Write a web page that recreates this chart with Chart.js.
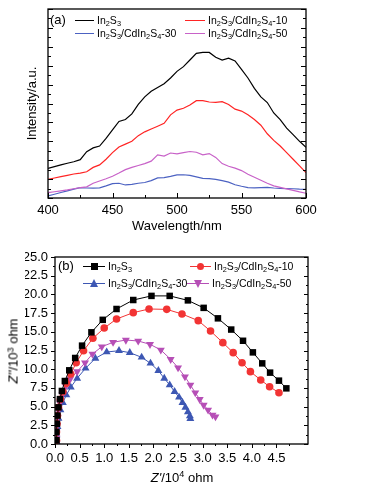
<!DOCTYPE html>
<html>
<head>
<meta charset="utf-8">
<script src="https://cdn.jsdelivr.net/npm/chart.js@4"></script>
<style>
  body { margin: 0; background: #fff; }
  #wrap { position: relative; width: 376px; height: 497px; background: #fff; overflow: hidden;
          font-family: "Liberation Sans", Arial, sans-serif; color: #000; }
  canvas { position: absolute; left: 0; }
  .lg { position: absolute; height: 14px; line-height: 14px; white-space: nowrap; font-size: 10.5px; }
  .sw { position: relative; display: inline-block; width: 20px; height: 14px; vertical-align: top; margin-right: 3px; }
  .sw .ln { position: absolute; left: 0; right: 0; top: 7px; height: 1px; }
  .sw .mk { position: absolute; left: 50%; top: 7px; }
  sub { font-size: 70%; vertical-align: -0.3em; line-height: 0; }
  sup { font-size: 70%; vertical-align: 0.45em; line-height: 0; }
  .tag { position: absolute; font-size: 13px; line-height: 14px; }
  .ttl { position: absolute; font-size: 13px; white-space: nowrap; transform: translate(-50%, -50%); }
</style>
</head>
<body>
<div id="wrap">
  <canvas id="plChart" width="376" height="234" style="top:0"></canvas>
  <canvas id="eisChart" width="376" height="257" style="top:240px"></canvas>
  <div class="tag" style="left:50px;top:13px">(a)</div>
  <div class="tag" style="left:58px;top:259px">(b)</div>
  <div class="ttl" style="left:13px;top:351px;transform:translate(-50%,-50%) rotate(-90deg)"><i>Z''</i>/10<sup>3</sup> ohm</div>
  <div class="ttl" style="left:182px;top:477px"><i>Z'</i>/10<sup>4</sup> ohm</div>
</div>
<script>
// ── DATA ─────────────────────────────────────────────────────────────
const seriesNames = [
  'In<sub>2</sub>S<sub>3</sub>',
  'In<sub>2</sub>S<sub>3</sub>/CdIn<sub>2</sub>S<sub>4</sub>-10',
  'In<sub>2</sub>S<sub>3</sub>/CdIn<sub>2</sub>S<sub>4</sub>-30',
  'In<sub>2</sub>S<sub>3</sub>/CdIn<sub>2</sub>S<sub>4</sub>-50'
];
const plainNames = ['In2S3', 'In2S3/CdIn2S4-10', 'In2S3/CdIn2S4-30', 'In2S3/CdIn2S4-50'];

// (a) PL spectra, wavelength in nm, intensity in a.u.
const wavelengths = [400,405,410,415,420,425,430,435,440,445,450,455,460,465,470,475,480,485,490,495,
  500,505,510,515,520,525,530,535,540,545,550,555,560,565,570,575,580,585,590,595,600];
const plIn2S3 = [15.7,16.6,17.5,18.4,19.2,20.3,24.5,26.5,27.5,31.5,36.0,40.5,41.5,44.5,49.5,53.5,56.5,58.5,60.5,63.5,
  67.0,69.5,73.0,76.5,77.0,77.0,74.5,73.0,74.0,72.5,68.0,63.5,58.0,53.5,50.5,45.0,41.5,37.0,33.5,30.0,26.8];
const pl10 = [9.9,10.6,11.3,12.0,12.7,13.2,13.9,16.2,17.5,20.5,24.0,27.0,28.5,30.0,33.0,35.0,36.5,38.0,39.5,44.0,
  46.5,47.5,49.2,51.5,51.5,50.8,50.6,51.0,49.5,47.0,46.0,44.0,41.5,38.5,34.0,30.5,27.5,24.0,20.5,17.0,13.4];
const pl30 = [1.1,2.0,2.9,3.8,4.7,5.5,5.3,5.2,5.4,6.4,7.6,7.8,6.9,7.2,7.8,8.2,9.2,10.6,10.8,11.4,
  12.2,12.3,12.0,11.2,10.4,10.3,9.9,9.2,8.4,7.0,6.2,5.5,5.4,5.5,5.6,5.3,5.1,5.0,4.9,4.7,4.6];
const pl50 = [2.8,3.3,3.8,4.3,4.9,5.5,5.9,7.8,9.0,10.2,11.5,13.2,15.0,16.2,17.2,18.2,19.5,22.8,22.2,23.8,
  23.4,24.0,24.6,24.2,22.8,23.5,21.5,18.2,16.8,15.8,14.5,12.6,11.0,9.4,7.8,6.4,5.6,4.8,4.0,3.2,2.5];

// (b) Nyquist plots, Z' in 10^4 ohm, Z'' in 10^3 ohm
const zReIn2S3 = [0.03,0.03,0.04,0.05,0.07,0.10,0.14,0.20,0.29,0.41,0.55,0.74,0.97,1.25,1.59,1.96,2.33,2.70,3.02,3.31,3.58,3.82,4.02,4.21,4.37,4.55,4.70];
const zImIn2S3 = [0.5,1.6,2.7,3.8,4.9,6.0,7.09,8.42,9.85,11.5,13.15,14.93,16.6,18.05,19.25,19.8,19.8,19.2,18.2,16.8,15.3,13.8,12.25,10.78,9.54,8.47,7.44];
const zRe10 = [0.03,0.03,0.04,0.05,0.07,0.11,0.16,0.23,0.32,0.43,0.58,0.77,1.00,1.25,1.59,1.91,2.27,2.58,2.91,3.16,3.41,3.62,3.80,3.97,4.18,4.36,4.55];
const zIm10 = [0.5,1.6,2.7,3.8,4.9,5.97,6.99,8.11,9.36,10.87,12.47,14.13,15.5,16.71,17.56,18.05,18.0,17.38,16.49,15.1,13.55,12.21,10.87,9.67,8.56,7.66,6.86];
const zRe30 = [0.03,0.03,0.05,0.07,0.11,0.16,0.23,0.32,0.45,0.62,0.82,1.05,1.30,1.52,1.76,1.94,2.10,2.22,2.33,2.43,2.52,2.59,2.65,2.70,2.74,2.75];
const zIm30 = [0.3,1.2,2.32,3.43,4.55,5.53,6.55,7.58,8.78,10.12,11.45,12.3,12.47,12.21,11.59,10.79,9.80,8.78,7.89,6.99,6.24,5.53,4.90,4.28,3.74,3.39];
const zRe50 = [0.03,0.03,0.03,0.04,0.05,0.07,0.10,0.15,0.22,0.31,0.45,0.61,0.76,0.95,1.18,1.44,1.69,1.93,2.15,2.35,2.50,2.64,2.75,2.85,2.94,3.02,3.11,3.20,3.26];
const zIm50 = [0.1,0.8,1.6,2.5,3.5,4.5,5.5,6.6,7.7,8.7,9.67,10.87,12.03,13.0,13.6,13.9,13.77,13.33,12.57,11.32,10.2,9.0,7.89,6.86,5.97,5.21,4.55,3.88,3.65];

const plColors = ['#000000', '#ff2424', '#4c62c2', '#c862c8'];
const eisColors = ['#000000', '#f23434', '#3d57b3', '#b64fb6'];

// ── HELPERS ──────────────────────────────────────────────────────────
Chart.defaults.font.family = '"Liberation Sans", Arial, sans-serif';
Chart.defaults.font.size = 13;
Chart.defaults.color = '#000';

const pairs = (xs, ys) => xs.map((x, i) => ({ x: x, y: ys[i] }));
const isMultiple = (v, step) => Math.abs(v / step - Math.round(v / step)) < 1e-6;

// frame box + tick marks (major/minor) drawn from the scales
const frameTicks = {
  id: 'frameTicks',
  afterDraw(chart, args, opts) {
    const { ctx, chartArea: a, scales } = chart;
    const xs = scales.x, ys = scales.y;
    const dirX = opts.xOut ? 1 : -1;
    const dirY = opts.yOut ? -1 : 1;
    ctx.save();
    ctx.strokeStyle = '#000';
    ctx.lineWidth = 1.3;
    ctx.strokeRect(a.left, a.top, a.right - a.left, a.bottom - a.top);
    ctx.lineWidth = 1;
    ctx.beginPath();
    xs.ticks.forEach((t, i) => {
      const px = Math.round(xs.getPixelForTick(i)) + 0.5;
      const len = isMultiple(t.value, opts.xMajor) ? opts.major : opts.minor;
      ctx.moveTo(px, a.bottom);
      ctx.lineTo(px, a.bottom + dirX * len);
    });
    ys.ticks.forEach((t, i) => {
      const py = Math.round(ys.getPixelForTick(i)) + 0.5;
      const len = isMultiple(t.value, opts.yMajor) ? opts.major : opts.minor;
      ctx.moveTo(a.left, py);
      ctx.lineTo(a.left + dirY * len, py);
      ctx.moveTo(a.right, py);
      ctx.lineTo(a.right - len, py);
    });
    ctx.stroke();
    ctx.restore();
  }
};

// ── (a) PL CHART ─────────────────────────────────────────────────────
const plSeries = [plIn2S3, pl10, pl30, pl50];
new Chart(document.getElementById('plChart'), {
  type: 'scatter',
  data: {
    datasets: plSeries.map((s, i) => ({
      label: plainNames[i],
      data: pairs(wavelengths, s),
      showLine: true,
      borderColor: plColors[i],
      borderWidth: 1.2,
      pointRadius: 0,
      order: [0, 1, 3, 2][i]
    }))
  },
  options: {
    responsive: false,
    animation: false,
    devicePixelRatio: 1,
    layout: { padding: { left: 25, top: 9, right: 70, bottom: 0 } },
    plugins: {
      legend: { display: false },
      tooltip: { enabled: false },
      frameTicks: { xMajor: 50, yMajor: 10, major: 5, minor: 3, xOut: false, yOut: false }
    },
    scales: {
      x: {
        type: 'linear', min: 400, max: 600,
        grid: { display: false, drawTicks: false },
        border: { display: false },
        ticks: { stepSize: 25, padding: 5, maxRotation: 0, autoSkip: false,
                  callback: (v) => isMultiple(v, 50) ? String(v) : '' },
        title: { display: true, text: 'Wavelength/nm', padding: 0, font: { size: 13 } },
        afterFit: (s) => { s.height = 36; }
      },
      y: {
        min: 0, max: 100,
        grid: { display: false, drawTicks: false },
        border: { display: false },
        ticks: { display: false, stepSize: 5 },
        title: { display: true, text: 'Intensity/a.u.', padding: 0, font: { size: 13 } },
        afterFit: (s) => { s.width = 23; }
      }
    }
  },
  plugins: [frameTicks]
});

// ── (b) EIS CHART ────────────────────────────────────────────────────
const eisRe = [zReIn2S3, zRe10, zRe30, zRe50];
const eisIm = [zImIn2S3, zIm10, zIm30, zIm50];
const eisShapes = ['rect', 'circle', 'triangle', 'triangle'];
const eisRotation = [0, 0, 0, 180];
const eisRadius = [4.6, 3.8, 4.6, 4.6];

new Chart(document.getElementById('eisChart'), {
  type: 'scatter',
  data: {
    datasets: eisRe.map((xs, i) => ({
      label: plainNames[i],
      data: pairs(xs, eisIm[i]),
      showLine: true,
      borderColor: eisColors[i],
      backgroundColor: eisColors[i],
      borderWidth: 1,
      pointStyle: eisShapes[i],
      rotation: eisRotation[i],
      pointRadius: eisRadius[i],
      pointBorderWidth: 0,
      order: [0, 1, 3, 2][i]
    }))
  },
  options: {
    responsive: false,
    animation: false,
    devicePixelRatio: 1,
    layout: { padding: { left: 25, top: 17, right: 68, bottom: 0 } },
    plugins: {
      legend: { display: false },
      tooltip: { enabled: false },
      frameTicks: { xMajor: 0.5, yMajor: 2.5, major: 4, minor: 2, xOut: true, yOut: true }
    },
    scales: {
      x: {
        type: 'linear', min: 0, max: 5.14,
        grid: { display: false, drawTicks: true, tickLength: 4 },
        border: { display: false },
        ticks: { stepSize: 0.25, padding: 3, maxRotation: 0, autoSkip: false,
                  callback: (v) => isMultiple(v, 0.5) ? v.toFixed(1) : '' },
        afterBuildTicks: (s) => { s.ticks = s.ticks.filter(t => isMultiple(t.value, 0.25)); },
        afterFit: (s) => { s.height = 53; }
      },
      y: {
        min: 0, max: 25,
        grid: { display: false, drawTicks: true, tickLength: 4 },
        border: { display: false },
        ticks: { stepSize: 1.25, padding: 3, autoSkip: false,
                  callback: (v) => isMultiple(v, 2.5) ? v.toFixed(1) : '' },
        afterFit: (s) => { s.width = 30; }
      }
    }
  },
  plugins: [frameTicks]
});

// ── LEGENDS (html, so sub-scripts stay real text) ────────────────────
function markerHtml(shape, color) {
  if (shape === 'rect') return `<span class="mk" style="width:7px;height:7px;margin:-3.5px 0 0 -3.5px;background:${color}"></span>`;
  if (shape === 'circle') return `<span class="mk" style="width:7px;height:7px;margin:-3.5px 0 0 -3.5px;border-radius:50%;background:${color}"></span>`;
  if (shape === 'up') return `<span class="mk" style="width:0;height:0;margin:-4.5px 0 0 -4.5px;border-left:4.5px solid transparent;border-right:4.5px solid transparent;border-bottom:8px solid ${color}"></span>`;
  if (shape === 'down') return `<span class="mk" style="width:0;height:0;margin:-3.5px 0 0 -4.5px;border-left:4.5px solid transparent;border-right:4.5px solid transparent;border-top:8px solid ${color}"></span>`;
  return '';
}

function addLegend(items) {
  const wrap = document.getElementById('wrap');
  items.forEach(it => {
    const d = document.createElement('div');
    d.className = 'lg';
    d.style.left = it.x + 'px';
    d.style.top = (it.y - 7) + 'px';
    d.innerHTML = `<span class="sw" style="width:${it.w}px"><span class="ln" style="background:${it.color}"></span>${markerHtml(it.shape, it.color)}</span>${it.label}`;
    wrap.appendChild(d);
  });
}

addLegend([
  { x: 75, y: 20, w: 19, color: plColors[0], label: seriesNames[0] },
  { x: 185, y: 20, w: 20, color: plColors[1], label: seriesNames[1] },
  { x: 75, y: 33, w: 19, color: plColors[2], label: seriesNames[2] },
  { x: 185, y: 33, w: 20, color: plColors[3], label: seriesNames[3] }
]);
addLegend([
  { x: 83, y: 266, w: 22, color: eisColors[0], shape: 'rect', label: seriesNames[0] },
  { x: 190, y: 266, w: 21, color: eisColors[1], shape: 'circle', label: seriesNames[1] },
  { x: 83, y: 283, w: 22, color: eisColors[2], shape: 'up', label: seriesNames[2] },
  { x: 187, y: 283, w: 22, color: eisColors[3], shape: 'down', label: seriesNames[3] }
]);
</script>
</body>
</html>
